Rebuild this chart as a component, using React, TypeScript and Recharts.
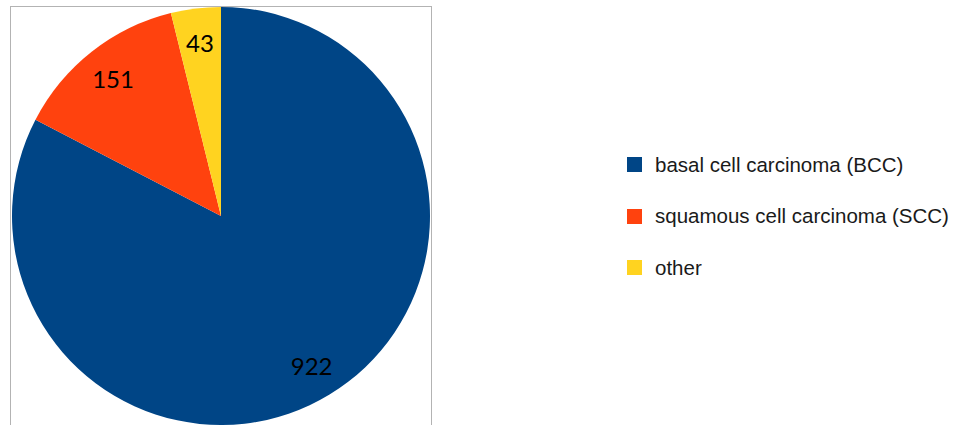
import { Legend, Pie, PieChart } from "recharts";

const categories = ["basal cell carcinoma (BCC)", "squamous cell carcinoma (SCC)", "other"];
const counts = [922, 151, 43];
const colors = ["#004586", "#ff420e", "#ffd320"];

const chartData = categories.map((name, i) => ({ name, value: counts[i], fill: colors[i] }));

const RADIAN = Math.PI / 180;

function SliceLabel(props: any) {
  const { cx, cy, midAngle, outerRadius, value } = props;
  const r = outerRadius * 0.835;
  const x = cx + r * Math.cos(-midAngle * RADIAN);
  const y = cy + r * Math.sin(-midAngle * RADIAN);
  return (
    <text x={x} y={y} textAnchor="middle" dominantBaseline="central" fill="#000" fontSize={24} fontFamily="Lato, sans-serif">
      {value}
    </text>
  );
}

function LegendList() {
  return (
    <ul style={{ listStyle: "none", margin: 0, padding: 0 }}>
      {categories.map((name, i) => (
        <li key={name} style={{ display: "flex", alignItems: "center", height: 51.5 }}>
          <span style={{ width: 15, height: 15, background: colors[i], display: "inline-block", marginRight: 13 }} />
          <span style={{ fontFamily: "'Liberation Sans', Arial, sans-serif", fontSize: 20.5, color: "#1a1a1a" }}>{name}</span>
        </li>
      ))}
    </ul>
  );
}

export default function App() {
  return (
    <div style={{ position: "absolute", left: 0, top: 0, width: 962, height: 425, overflow: "hidden", background: "#fff" }}>
      <div style={{ position: "absolute", left: 10, top: 6, width: 420, height: 440, border: "1px solid #b3b3b3" }} />
      <PieChart width={962} height={425} margin={{ top: 0, right: 0, bottom: 0, left: 0 }} style={{ position: "absolute", left: 0, top: 0 }}>
        <Pie
          data={chartData}
          dataKey="value"
          nameKey="name"
          cx={221}
          cy={216}
          outerRadius={209}
          startAngle={90}
          endAngle={-270}
          stroke="none"
          label={SliceLabel}
          labelLine={false}
          isAnimationActive={false}
        />
        <Legend content={LegendList} layout="vertical" wrapperStyle={{ left: 627, top: 139, width: 330 }} />
      </PieChart>
    </div>
  );
}
